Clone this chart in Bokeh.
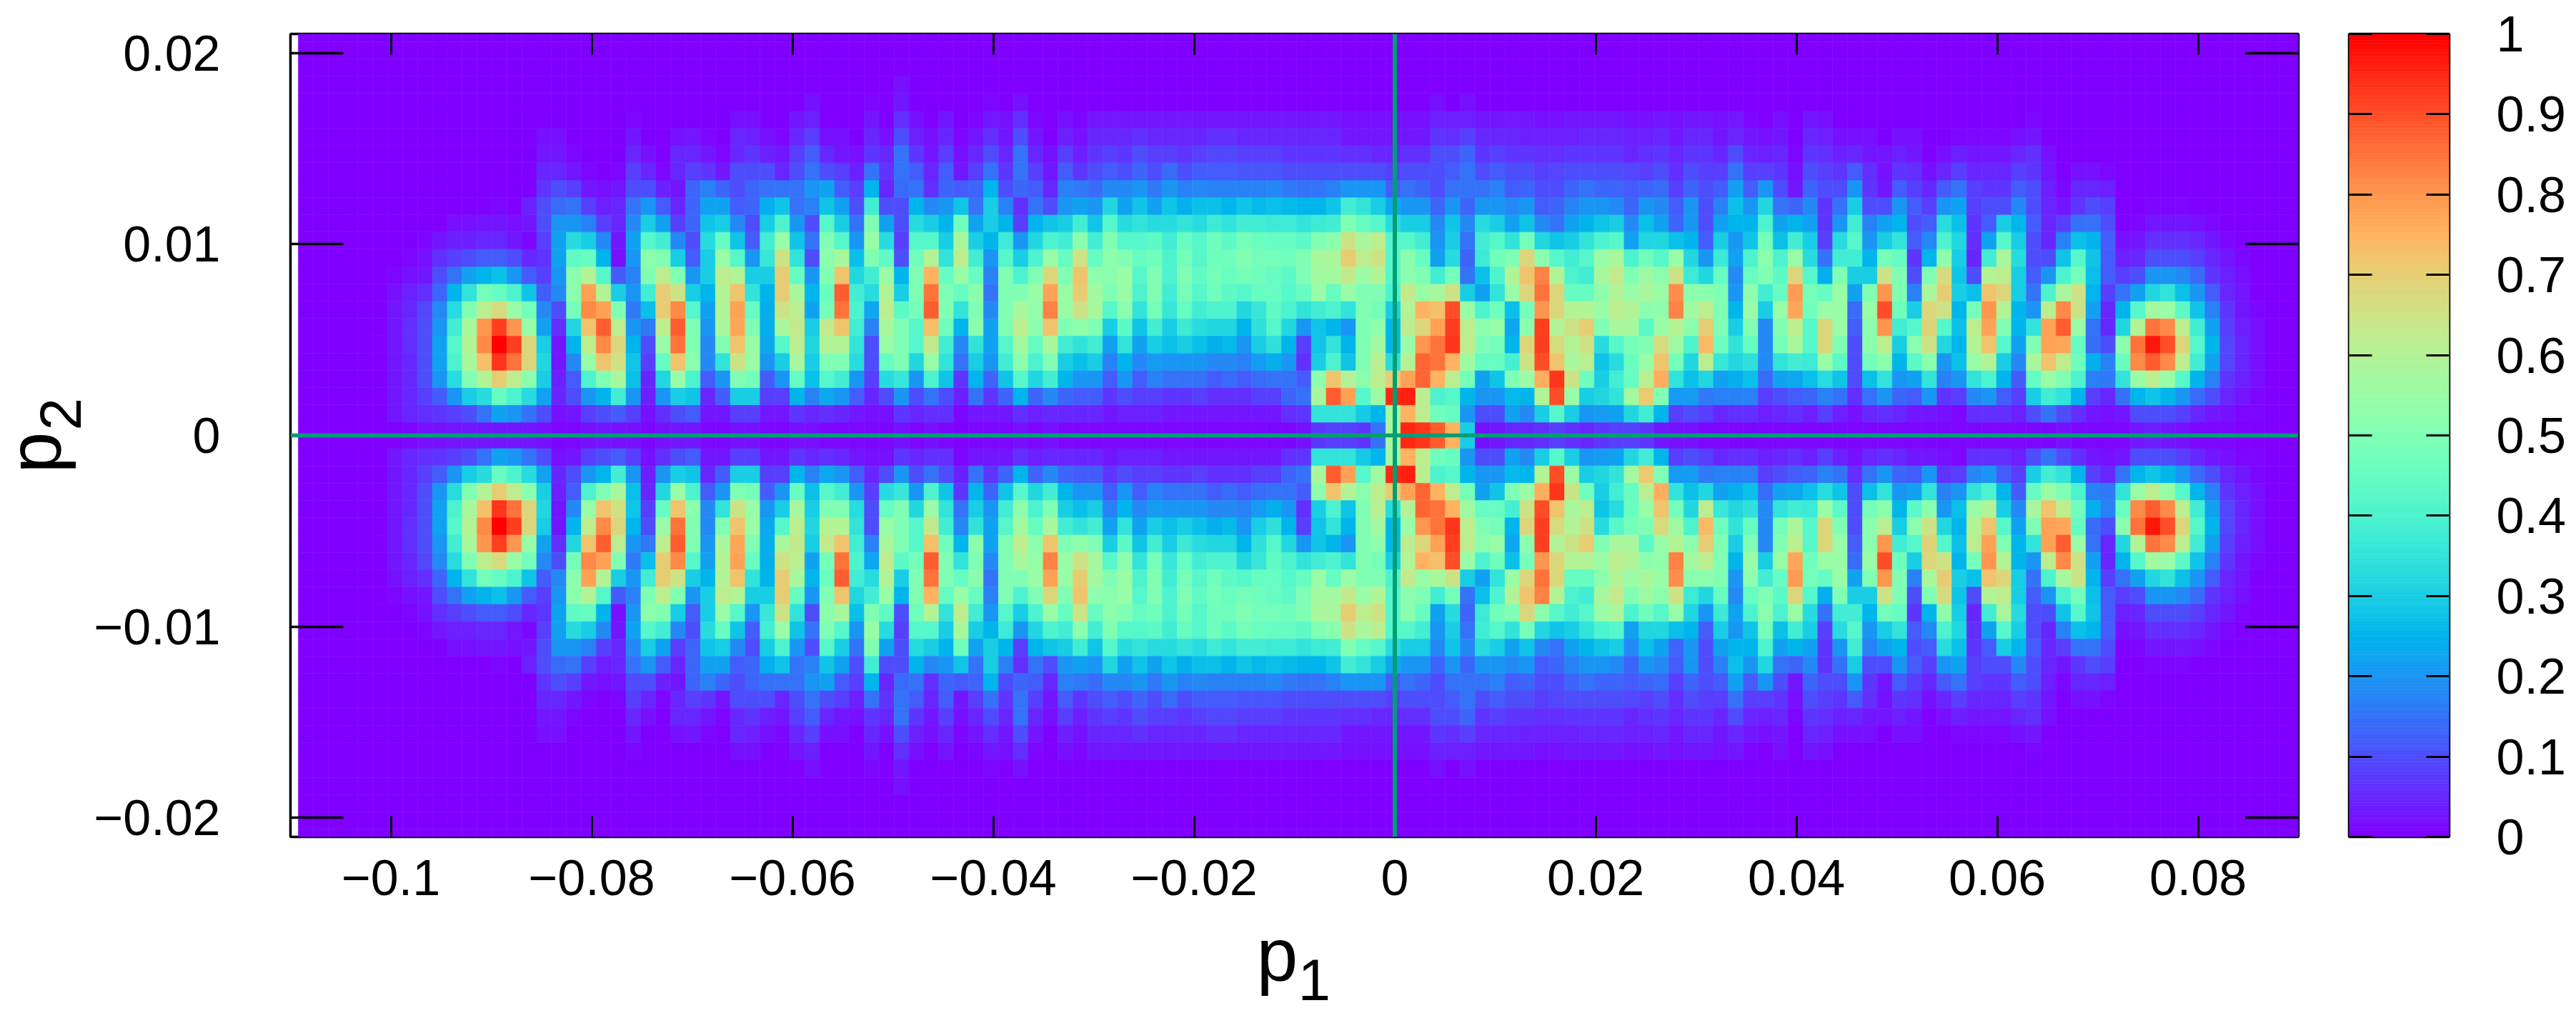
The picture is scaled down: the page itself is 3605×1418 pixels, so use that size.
import math
import numpy as np
from bokeh.core.properties import value
from bokeh.embed import file_html
from bokeh.layouts import column, row
from bokeh.models import (ColumnDataSource, CustomJSTickFormatter, FixedTicker, LinearAxis,
                          LinearColorMapper, Range1d, Span)
from bokeh.plotting import figure
from bokeh.resources import INLINE

p1_range = (-0.11, 0.09)
p2_range = (-0.021, 0.021)
p1_ticks = [-0.1, -0.08, -0.06, -0.04, -0.02, 0, 0.02, 0.04, 0.06, 0.08]
p1_labels = ["\u22120.1", "\u22120.08", "\u22120.06", "\u22120.04", "\u22120.02", "0", "0.02", "0.04", "0.06", "0.08"]
p2_ticks = [-0.02, -0.01, 0, 0.01, 0.02]
p2_labels = ["\u22120.02", "\u22120.01", "0", "0.01", "0.02"]
cb_ticks = [0, 0.1, 0.2, 0.3, 0.4, 0.5, 0.6, 0.7, 0.8, 0.9, 1]
cb_labels = ["0", "0.1", "0.2", "0.3", "0.4", "0.5", "0.6", "0.7", "0.8", "0.9", "1"]

# density in hundredths; one list per p1 column, read from p2 = 0 upward (the rest of a column is 0)
columns_a = [
 [0],[0],[0],[0],[0],[0],
 [0,3,3,3,3,3,3,3,2,1],
 [1,5,5,5,5,6,6,5,4,2,1],
 [2,6,8,10,10,10,10,9,6,3,2,1],
 [2,7,12,20,22,22,20,18,13,10,6,3],
 [3,8,20,33,40,42,38,33,25,15,8,4,2],
 [3,10,30,50,58,60,58,50,35,22,10,4,2],
 [3,15,33,60,73,82,80,62,48,25,12,5,3],
 [3,22,45,70,93,100,92,67,45,27,12,5,3,1],
 [3,20,40,62,85,92,80,55,40,20,10,3,2],
 [3,15,33,52,68,68,55,48,28,12,5,1,3,4],
 [2,10,22,30,32,30,22,18,12,8,7,8,10,10,7,5,3,2],
 [1,2,5,4,3,3,6,10,18,20,22,22,20,14,10,5,3,2],
 [1,3,10,12,18,25,32,48,52,52,44,33,20,15,8,3,1],
 [2,8,20,40,55,62,72,82,78,60,45,30,17,8,3,1],
 [3,10,25,50,72,82,88,78,60,42,25,18,8,4,2],
 [2,12,38,58,66,68,62,50,30,12,2,3,5,5,3,1],
 [2,8,20,27,28,25,20,16,20,17,20,22,18,15,10,8,5,3,1],
 [1,2,4,5,8,10,16,27,38,50,52,42,30,20,10,5,2],
 [2,6,20,32,45,55,62,70,70,62,50,38,22,12,4,1],
 [3,10,30,55,72,85,88,82,65,50,30,18,8,5,3,5,5,2],
 [3,12,28,40,52,50,50,42,30,20,12,10,13,13,13,8,5,3],
 [1,3,5,12,18,18,20,22,25,30,30,33,28,22,17,7,3,1],
 [1,3,12,20,35,50,58,60,60,62,55,45,30,22,13,3,1],
 [2,8,30,50,65,72,77,78,72,60,42,28,18,12,10,10,5,5,2],
 [2,8,30,48,55,55,50,45,35,30,20,12,10,13,13,10,7,4,2],
 [1,3,8,12,20,23,24,24,25,30,36,38,30,24,15,10,4,2],
 [1,3,8,20,30,42,58,65,70,70,65,55,40,28,15,5,3,1],
 [2,7,25,45,58,62,63,62,58,45,35,28,20,15,15,10,8,5,3],
 [2,5,17,27,30,32,30,22,25,20,10,15,10,17,20,15,12,8,4,2],
 [1,6,23,42,50,60,63,48,46,50,52,50,42,28,22,10,5,2],
 [1,5,20,38,50,60,72,85,88,72,58,42,30,22,12,8,3,2],
 [1,3,12,20,33,35,38,40,38,32,27,20,15,10,8,4,2],
 [1,2,5,8,10,10,17,23,33,38,50,55,50,38,25,15,7,5,3,1],
]
columns_b = [
 [1,2,10,33,45,55,58,62,60,55,44,33,22,10,5,7,5,2],
 [2,7,20,36,50,50,50,43,30,25,10,8,10,10,14,15,15,10,6,3,2],
 [1,5,10,20,32,42,42,48,50,50,47,42,33,25,15,12,7,4,2],
 [2,6,15,40,55,63,73,88,85,75,60,42,30,18,6,5,3,2],
 [1,6,10,28,35,38,47,50,50,45,35,30,25,20,13,12,8,5,3],
 [0,1,4,7,15,18,25,35,45,55,62,58,47,28,12,3,2,1],
 [1,3,15,25,30,35,52,50,52,45,38,30,22,15,13,8,5,3,1],
 [1,3,7,13,20,22,22,18,15,17,20,25,30,30,25,15,10,6,3,1],
 [1,3,13,28,38,42,50,50,50,50,42,37,25,17,10,7,5,3,2],
 [2,6,25,42,52,57,62,58,50,40,30,20,8,6,13,15,15,10,6,2],
 [1,4,13,32,40,45,52,54,55,50,40,32,25,15,12,8,5,3,1],
 [2,5,18,38,50,58,72,83,78,68,55,40,28,10,5,3,2],
 [1,5,13,25,30,38,50,55,55,50,45,38,30,20,17,12,8,4,2],
 [1,5,12,20,27,35,53,65,70,72,65,52,38,22,16,7,4,2,1],
 [1,5,12,20,30,38,50,58,57,53,45,38,28,20,14,10,7,5,3],
 [1,3,7,12,17,22,30,42,50,52,52,50,42,32,18,12,8,5,3],
 [1,4,10,20,25,35,43,52,55,55,50,42,33,22,18,10,7,5,3],
 [1,4,8,12,18,22,28,35,40,42,45,42,35,28,20,13,10,6,3],
 [1,4,8,17,21,30,38,48,50,50,47,43,33,22,16,10,8,5,3],
 [1,3,7,15,20,27,30,36,38,40,40,38,33,28,20,14,8,5,3],
 [1,3,7,15,20,30,37,45,48,50,48,45,35,24,17,10,7,5,3],
 [1,3,8,15,20,27,33,38,42,44,42,42,33,27,18,12,8,5,3],
 [1,3,6,12,18,24,32,40,47,48,47,47,37,27,17,12,9,6,3],
 [1,3,6,14,18,26,32,40,43,46,47,43,35,25,17,12,9,6,3],
 [1,3,6,12,17,20,25,32,42,48,50,48,38,28,17,11,8,5,3],
 [1,3,8,14,21,30,34,36,45,47,48,46,38,26,17,11,8,5,3],
 [1,3,8,15,24,34,42,44,45,45,48,45,37,27,18,11,8,5,3],
 [1,6,13,15,20,25,32,40,42,43,47,45,37,26,16,10,7,5,3],
 [2,7,15,12,6,8,20,35,45,50,50,43,35,25,15,10,7,5,3],
 [7,35,58,53,30,28,28,38,55,57,58,50,37,25,15,10,7,5,3],
 [8,35,88,72,40,35,25,40,45,57,58,52,38,28,17,10,7,5,3],
 [8,35,78,60,28,25,20,35,55,63,70,65,50,38,20,10,6,3,2],
 [7,29,42,52,50,50,50,50,50,55,62,58,45,35,20,10,6,3,2],
 [15,25,56,62,61,57,53,48,50,60,65,62,42,30,20,10,5,3,2],
 [58,57,95,70,33,25,25,30,40,42,42,42,33,23,12,8,5,3,2],
 [95,75,96,78,60,55,62,60,63,52,52,42,30,20,15,10,6,3,2],
 [93,62,62,87,87,80,68,75,55,50,45,38,30,20,13,10,6,3,2],
 [88,47,40,75,85,85,78,73,58,38,22,20,18,13,10,10,10,7,4,2],
 [75,45,42,62,75,93,92,90,65,48,33,30,28,20,15,12,10,6,4],
]
columns_c = [
 [30,20,25,48,56,62,62,55,30,15,13,15,18,13,15,15,13,8,4,2],
 [2,10,20,22,45,50,52,40,22,27,37,38,33,20,15,10,7,5,3],
 [3,10,20,28,45,48,55,47,35,40,47,42,30,20,17,12,8,5,3],
 [5,22,26,50,39,25,23,27,55,60,50,35,22,18,12,10,7,5,3],
 [5,18,25,55,65,68,52,48,68,72,68,48,28,20,13,10,7,4,3],
 [6,30,60,76,90,92,92,80,85,83,52,32,18,12,10,8,6,4,2],
 [8,42,90,93,72,67,60,68,68,60,42,28,15,13,10,9,6,4,2],
 [6,30,55,65,58,60,65,60,45,40,38,30,22,17,13,10,7,4,3],
 [5,20,30,47,62,65,70,60,45,38,42,35,25,20,15,10,7,5,3],
 [7,21,32,30,28,33,50,55,53,58,55,40,28,20,13,10,7,5,3],
 [8,22,35,38,33,42,58,62,60,63,58,42,30,18,13,10,7,5,3],
 [8,32,57,45,46,48,58,60,55,50,40,22,18,13,12,9,5,4,2],
 [7,38,71,61,55,50,43,52,58,56,47,32,27,20,13,8,6,4,2],
 [3,25,50,76,72,67,55,53,55,52,42,32,22,18,14,10,7,5,3],
 [2,8,21,35,48,56,60,83,81,65,55,27,13,12,8,6,5,3,2],
 [2,10,21,27,32,40,52,57,52,37,32,25,20,20,13,10,7,5,3],
 [1,8,16,32,62,74,70,62,52,32,20,12,10,10,10,8,7,5,3],
 [1,5,17,22,36,47,50,50,50,45,37,30,22,17,12,8,5,3,2],
 [1,6,17,24,32,35,30,25,20,18,22,20,25,27,22,15,10,5,3],
 [1,6,17,27,34,45,50,55,53,45,40,28,25,20,12,8,5,3,1],
 [1,4,8,14,18,18,18,30,38,50,52,48,40,32,20,8,4,2],
 [1,5,10,22,35,48,50,55,45,43,40,27,22,15,10,7,5,3,2],
 [1,6,12,23,38,58,62,77,79,68,55,38,25,13,3,2,1],
 [1,4,13,27,37,42,42,47,48,42,33,30,22,18,13,10,7,5,3],
 [1,8,17,33,55,68,68,55,45,24,15,8,7,7,10,8,6,4,2],
 [1,4,15,28,43,50,55,55,55,50,38,33,20,15,10,7,4,2],
 [1,2,6,10,10,10,12,14,22,30,38,42,38,30,20,12,5,2],
 [1,5,15,27,48,52,52,55,50,30,25,20,17,10,7,6,3,2],
 [1,6,20,35,52,62,80,90,80,65,48,30,22,10,3,2,3],
 [1,5,13,20,25,30,38,47,50,50,45,35,25,20,12,7,4,2],
 [1,3,12,22,43,52,42,30,17,10,7,12,10,12,8,6,3,2],
 [1,3,20,35,52,65,69,68,58,50,25,18,12,8,5,2],
 [1,2,7,17,20,32,42,65,70,67,53,40,33,20,12,5,2],
 [1,1,8,20,27,25,27,25,30,28,30,32,27,22,15,8,4,1],
 [1,6,18,35,55,60,62,48,27,10,5,6,7,8,8,5,3,1],
 [1,6,20,40,60,72,78,80,72,60,38,22,12,10,7,5,3,1],
 [1,6,12,25,30,42,50,60,68,62,58,42,30,10,7,5,3,1],
 [1,4,8,12,18,22,25,25,30,30,33,30,25,18,12,8,5,2],
 [1,10,30,45,58,50,35,20,15,12,10,10,12,10,10,7,6,3,1],
 [1,15,38,55,72,78,78,62,40,20,10,5,5,5,4,3,2],
 [2,10,35,50,62,77,88,82,58,40,28,17,8,3,1],
 [1,6,25,40,47,45,55,65,65,48,42,27,15,7,5,2],
 [1,3,8,17,24,14,15,22,25,27,28,25,15,10,5,2],
 [1,2,5,16,17,10,5,5,8,12,12,12,10,8,4,1],
 [1,3,15,35,46,52,32,25,15,8,4,2],
 [3,10,25,55,82,85,60,42,22,10,5,3,1],
 [4,10,28,62,88,97,85,57,32,20,10,6,3,1],
 [3,10,25,55,82,90,82,55,35,20,10,6,3,1],
 [2,8,20,42,62,68,62,43,27,18,10,6,3,1],
 [1,5,14,25,38,42,38,28,20,14,8,5,2],
 [1,3,10,17,22,25,22,17,12,7,5,3,1],
 [1,2,5,7,9,9,8,7,5,4,3,1],
 [0,1,3,4,5,5,4,3,3,2,1],
 [0,1,1,2,2,2,2,1],
 [0],[0],[0],
]

# colour table of the key: gnuplot rainbow
palette = []
for i in range(256):
    t = i / 255
    r = min(abs(2 * t - 0.5), 1); g = math.sin(math.pi * t); b = math.cos(math.pi * t / 2)
    palette.append("#%02x%02x%02x" % (round(255 * r), round(255 * g), round(255 * max(b, 0))))

columns = columns_a + columns_b + columns_c
n_rows = 24
grid = np.zeros((len(columns), n_rows))
for k, col in enumerate(columns):
    grid[k, :len(col)] = np.array(col) / 100

x_start, x_step = -0.10922, 0.0014838
zero_half, y_step = 0.00069, 0.000905
rows_lo = [-zero_half] + [zero_half + y_step * r for r in range(n_rows - 1)]
rows_hi = [zero_half] + [zero_half + y_step * (r + 1) for r in range(n_rows - 1)]

L, R, B, T, V = [], [], [], [], []
for k in range(len(columns)):
    for r in range(n_rows):
        L.append(x_start + k * x_step); R.append(x_start + (k + 1) * x_step)
        B.append(rows_lo[r]); T.append(rows_hi[r]); V.append(grid[k, r])
        if r > 0:
            L.append(x_start + k * x_step); R.append(x_start + (k + 1) * x_step)
            B.append(-rows_hi[r]); T.append(-rows_lo[r]); V.append(grid[k, r])

mapper = LinearColorMapper(palette=palette, low=0, high=1)
FONT = "Liberation Sans"
blank = CustomJSTickFormatter(code="return ''")

STRIP_W = 120      # page column that holds the rotated p2 label
FOOT_H = 110       # page row that holds the p1 label
p = figure(output_backend="svg", toolbar_location=None, frame_width=2810, frame_height=1124,
           min_border_left=406 - STRIP_W, min_border_right=64, min_border_top=47, min_border_bottom=129,
           x_range=Range1d(*p1_range), y_range=Range1d(*p2_range),
           x_axis_location=None, y_axis_location=None, background_fill_color="white",
           outline_line_color="black", outline_line_width=3.5)
p.grid.visible = False
src = ColumnDataSource(dict(left=L, right=R, bottom=B, top=T, v=V))
cmap = {"field": "v", "transform": mapper}
p.quad(left="left", right="right", bottom="bottom", top="top", source=src,
       fill_color=cmap, line_color=cmap, line_width=0.6)
p.add_layout(Span(location=0, dimension="width", line_color="#009e73", line_width=5.5))
p.add_layout(Span(location=0, dimension="height", line_color="#009e73", line_width=6))

def axis(ticks, labels, tick_len, width, standoff=0, show=True):
    ax = LinearAxis(ticker=FixedTicker(ticks=ticks), axis_line_color=None, minor_tick_line_color=None,
                    major_tick_in=tick_len, major_tick_out=0, major_tick_line_color="black",
                    major_tick_line_width=width, major_label_standoff=standoff,
                    major_label_text_font=FONT, major_label_text_font_size="70px",
                    major_label_text_color="black")
    if show:
        ax.major_label_overrides = dict(zip(ticks, labels))
    else:
        ax.formatter = blank
        ax.major_label_text_font_size = "1px"
        ax.major_label_standoff = 0
    return ax

p.add_layout(axis(p1_ticks, p1_labels, 29, 3, 32), "below")
p.add_layout(axis(p1_ticks, p1_labels, 29, 3, show=False), "above")
p.add_layout(axis(p2_ticks, p2_labels, 74, 3.5, 98), "left")
p.add_layout(axis(p2_ticks, p2_labels, 74, 3.5, show=False), "right")

def text_strip(width, height, x0, y0):
    f = figure(output_backend="svg", toolbar_location=None, frame_width=width, frame_height=height,
               min_border_left=0, min_border_right=0, min_border_top=0, min_border_bottom=0,
               x_range=Range1d(x0, x0 + width), y_range=Range1d(y0 + height, y0),
               x_axis_location=None, y_axis_location=None, outline_line_color=None)
    f.grid.visible = False
    return f

def lab(f, text, px, py, size, angle=0):
    f.text([px], [py], text=[text], text_font=value(FONT), text_font_size=size, text_align="left",
           text_baseline="alphabetic", text_color="black", angle=angle)

# the strip's frame lines up with the main frame's top, the footer's with its left edge
strip = text_strip(STRIP_W, 1124, 0, 47)
lab(strip, "p", 47, 662, "104px", math.pi / 2)
lab(strip, "2", 84, 602, "82px", math.pi / 2)

foot = text_strip(2810, FOOT_H, 406, 1300)
lab(foot, "p", 1758, 1335, "104px")
lab(foot, "1", 1816, 1371, "82px")

levels = np.arange(256)
c = figure(output_backend="svg", toolbar_location=None, frame_width=140, frame_height=1124,
           min_border_left=7, min_border_right=173, min_border_top=47, min_border_bottom=129,
           x_range=Range1d(0, 1), y_range=Range1d(0, 1), x_axis_location=None, y_axis_location=None,
           outline_line_color="black", outline_line_width=3.5)
c.grid.visible = False
c.quad(left=0, right=1, bottom=levels / 256, top=(levels + 1) / 256, fill_color=palette, line_color=palette,
       line_width=0.6)
c.add_layout(axis(cb_ticks, cb_labels, 32, 3, show=False), "left")
c.add_layout(axis(cb_ticks, cb_labels, 32, 3, 66), "right")

open("out.html", "w").write(file_html(row(strip, column(p, foot), c), INLINE))
